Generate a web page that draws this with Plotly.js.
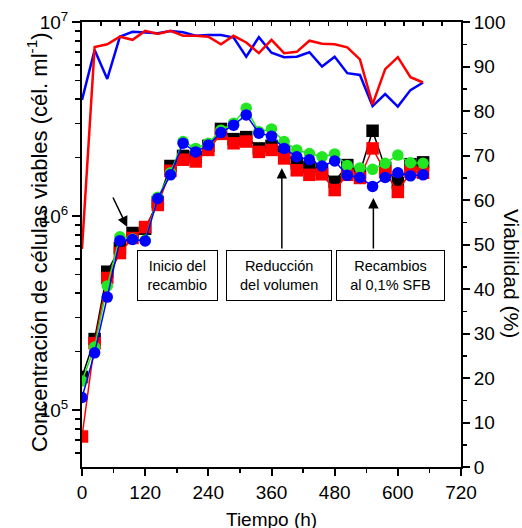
<!DOCTYPE html>
<html>
<head>
<meta charset="utf-8">
<script src="https://cdn.plot.ly/plotly-3.0.1.min.js"></script>
<style>
  html, body { margin: 0; padding: 0; background: #fff; }
  #chart { width: 522px; height: 528px; }
</style>
</head>
<body>
<div id="chart"></div>
<script>
// Sampling times (h)
const tiempo = [0, 24, 48, 72, 96, 120, 144, 168, 192, 216, 240, 264, 288, 312,
                336, 360, 384, 408, 432, 456, 480, 504, 528, 552, 576, 600, 624, 648];

// Viable cell concentration (cells/ml) for each culture
const concNegro = [1.48e5, 2.32e5, 5.16e5, 6.84e5, 8.17e5, 8.6e5, 1.18e6, 1.81e6, 2.04e6, 2.01e6,
                   2.30e6, 2.81e6, 2.49e6, 2.55e6, 2.23e6, 2.30e6, 2.14e6, 1.87e6, 1.79e6, 1.73e6,
                   1.50e6, 1.83e6, 1.67e6, 2.75e6, 1.77e6, 1.48e6, 1.85e6, 1.89e6];
const concRojo  = [7.3e4, 2.21e5, 4.79e5, 6.44e5, 7.7e5, 8.77e5, 1.14e6, 1.71e6, 1.95e6, 1.91e6,
                   2.19e6, 2.65e6, 2.37e6, 2.42e6, 2.14e6, 2.19e6, 1.98e6, 1.72e6, 1.63e6, 1.64e6,
                   1.36e6, 1.63e6, 1.57e6, 2.23e6, 1.69e6, 1.33e6, 1.69e6, 1.67e6];
const concVerde = [1.41e5, 2.11e5, 4.36e5, 7.82e5, 7.6e5, 7.5e5, 1.25e6, 1.67e6, 2.42e6, 2.23e6,
                   2.37e6, 2.77e6, 3.01e6, 3.59e6, 2.72e6, 2.81e6, 2.42e6, 2.19e6, 2.10e6, 2.02e6,
                   2.09e6, 1.82e6, 1.77e6, 1.74e6, 1.87e6, 2.06e6, 1.88e6, 1.87e6];
const concAzul  = [1.16e5, 1.97e5, 3.82e5, 7.46e5, 7.56e5, 7.43e5, 1.23e6, 1.63e6, 2.37e6, 2.14e6,
                   2.32e6, 2.69e6, 2.94e6, 3.32e6, 2.67e6, 2.58e6, 2.23e6, 2.02e6, 1.95e6, 1.81e6,
                   1.92e6, 1.62e6, 1.58e6, 1.42e6, 1.58e6, 1.67e6, 1.61e6, 1.63e6];

// Viability (%)
const viabRojo = [49, 94.4, 95.0, 96.7, 96.0, 98.0, 97.3, 98.0, 96.9, 96.9, 96.7, 95.0, 96.9, 95.4,
                  93.0, 96.0, 93.0, 93.3, 95.8, 95.1, 95.0, 94.3, 91.6, 81.5, 89.4, 92.1, 87.6, 86.4];
const viabAzul = [82.5, 93.7, 87.2, 96.7, 97.8, 97.6, 97.5, 98.0, 97.7, 96.9, 97.1, 97.1, 96.5, 92.2,
                  96.6, 93.1, 92.1, 92.2, 93.2, 90.0, 92.2, 88.5, 88.1, 81.1, 83.8, 81.0, 84.7, 86.4];

// Axis ticks
const xTicks = [0, 120, 240, 360, 480, 600, 720];
const yTicks = [1e5, 1e6, 1e7];
const yTickText = ['10<sup>5</sup>', '10<sup>6</sup>', '10<sup>7</sup>'];
const yMinor = [6e4, 7e4, 8e4, 9e4, 2e5, 3e5, 4e5, 5e5, 6e5, 7e5, 8e5, 9e5,
                2e6, 3e6, 4e6, 5e6, 6e6, 7e6, 8e6, 9e6];

const FONT = 'Liberation Sans, Arial, Helvetica, sans-serif';
const ROJO = '#ff0000', AZUL = '#0000ff', VERDE = '#22e622', NEGRO = '#000000';

function concTrace(y, color, symbol, size) {
  return {
    x: tiempo, y: y, xaxis: 'x', yaxis: 'y', type: 'scatter', mode: 'lines+markers',
    line: { color: color, width: 1.5 },
    marker: { color: color, symbol: symbol, size: size, line: { width: 0 } },
    showlegend: false, hoverinfo: 'x+y'
  };
}
function viabTrace(y, color) {
  return {
    x: tiempo, y: y, xaxis: 'x', yaxis: 'y2', type: 'scatter', mode: 'lines',
    line: { color: color, width: 2.5 }, showlegend: false, hoverinfo: 'x+y'
  };
}

const data = [
  concTrace(concNegro, NEGRO, 'square', 12.5),
  concTrace(concRojo, ROJO, 'square', 12.5),
  concTrace(concVerde, VERDE, 'circle', 11.5),
  concTrace(concAzul, AZUL, 'circle', 11.5),
  viabTrace(viabAzul, AZUL),
  viabTrace(viabRojo, ROJO),
  // carrier for the top frame axis
  { x: [null], y: [null], xaxis: 'x2', yaxis: 'y', type: 'scatter', mode: 'markers',
    showlegend: false, hoverinfo: 'skip' }
];

const tickFont = { family: FONT, size: 19, color: '#000' };

const axisCommon = {
  showgrid: false, zeroline: false, showline: true, linecolor: '#000', linewidth: 2,
  ticks: 'outside', tickcolor: '#000', tickwidth: 2, ticklen: 7, tickfont: tickFont
};

const boxStyle = {
  xref: 'paper', yref: 'paper', xanchor: 'center', yanchor: 'middle',
  showarrow: false, bgcolor: '#fff',
  bordercolor: '#000', borderwidth: 1, borderpad: 1, align: 'center', valign: 'middle',
  font: { family: FONT, size: 14.5, color: '#000' }
};
const arrowStyle = {
  xref: 'paper', yref: 'paper', text: '', showarrow: true, arrowhead: 2,
  arrowsize: 1.4, arrowwidth: 1.5, arrowcolor: '#000', standoff: 0, startstandoff: 0
};

const layout = {
  width: 522, height: 528,
  margin: { l: 82, r: 61, t: 22, b: 61, pad: 0 },
  paper_bgcolor: '#fff', plot_bgcolor: '#fff',
  font: { family: FONT, color: '#000' },
  showlegend: false,
  xaxis: Object.assign({}, axisCommon, {
    range: [0, 720], tickmode: 'array', tickvals: xTicks, anchor: 'y',
    minor: { dtick: 60, tick0: 0, ticks: 'outside', ticklen: 4, tickwidth: 1.5, tickcolor: '#000' }
  }),
  xaxis2: {
    overlaying: 'x', side: 'top', anchor: 'y', range: [0, 720],
    showgrid: false, zeroline: false, showline: true, linecolor: '#000', linewidth: 2,
    ticks: 'inside', tickmode: 'linear', tick0: 0, dtick: 36, ticklen: 4, tickwidth: 1.5,
    tickcolor: '#000', showticklabels: false
  },
  yaxis: Object.assign({}, axisCommon, {
    type: 'log', range: [4.706, 7], tickmode: 'array', tickvals: yTicks, ticktext: yTickText,
    anchor: 'x', ticklen: 8,
    minor: { tickmode: 'array', tickvals: yMinor, ticks: 'outside', ticklen: 5, tickwidth: 1.5, tickcolor: '#000' }
  }),
  yaxis2: Object.assign({}, axisCommon, {
    overlaying: 'y', side: 'right', anchor: 'x', range: [0, 100],
    tickmode: 'linear', tick0: 0, dtick: 10,
    minor: { dtick: 5, tick0: 0, ticks: 'outside', ticklen: 4, tickwidth: 1.5, tickcolor: '#000' }
  }),
  annotations: [
    // axis titles
    { xref: 'paper', yref: 'paper', x: -0.118, y: 0.506, xanchor: 'center', yanchor: 'middle',
      text: 'Concentración de células viables (cél. ml<sup>-1</sup>)', textangle: -90,
      showarrow: false, font: { family: FONT, size: 22, color: '#000' } },
    { xref: 'paper', yref: 'paper', x: 1.132, y: 0.436, xanchor: 'center', yanchor: 'middle',
      text: 'Viabilidad (%)', textangle: 90,
      showarrow: false, font: { family: FONT, size: 21, color: '#000' } },
    { xref: 'paper', yref: 'paper', x: 0.5, y: -0.117, xanchor: 'center', yanchor: 'middle',
      text: 'Tiempo (h)', showarrow: false, font: { family: FONT, size: 19, color: '#000' } },
    // event labels
    Object.assign({}, boxStyle, { x: 0.2513, y: 0.4303, width: 76.6, height: 47,
      text: 'Inicio del<br>recambio' }),
    Object.assign({}, boxStyle, { x: 0.5207, y: 0.4303, width: 102.3, height: 47,
      text: 'Reducción<br>del volumen' }),
    Object.assign({}, boxStyle, { x: 0.8141, y: 0.4303, width: 105, height: 47,
      text: 'Recambios<br>al 0,1% SFB' }),
    // arrows
    Object.assign({}, arrowStyle, { x: 0.1194, y: 0.5393, ax: -15, ay: -31 }),
    Object.assign({}, arrowStyle, { x: 0.5273, y: 0.6719, ax: 0, ay: 82 }),
    Object.assign({}, arrowStyle, { x: 0.7688, y: 0.6045, ax: 0, ay: 52 })
  ]
};

Plotly.newPlot('chart', data, layout, { staticPlot: true, displayModeBar: false });
</script>
</body>
</html>
